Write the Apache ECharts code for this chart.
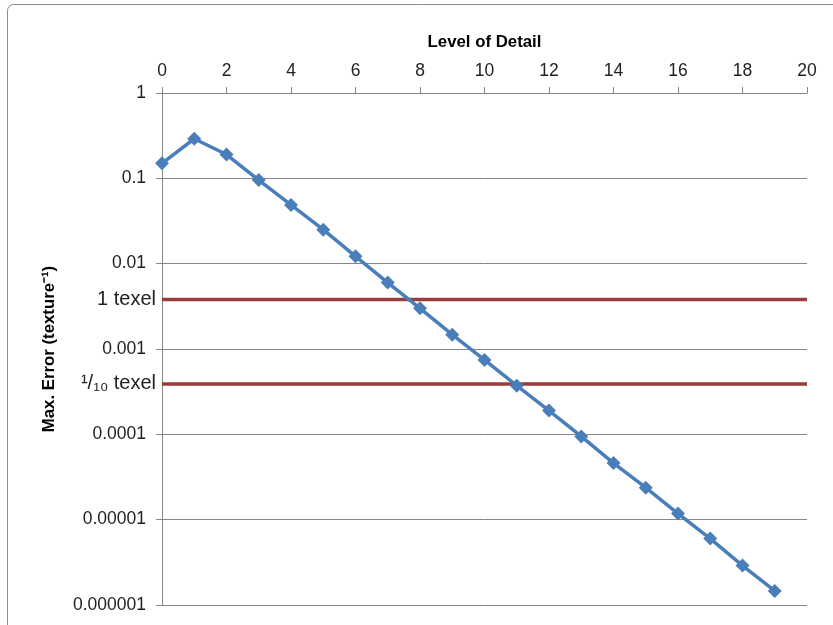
<!DOCTYPE html>
<html>
<head>
<meta charset="utf-8">
<script src="https://cdn.jsdelivr.net/npm/echarts@6/dist/echarts.min.js"></script>
<style>
  html, body { margin: 0; padding: 0; background: #ffffff; }
  #chart { width: 833px; height: 625px; }
</style>
</head>
<body>
<div id="chart"></div>
<script>
// Level of detail (x) against maximum error in texture units (log y)
const levels = [0, 1, 2, 3, 4, 5, 6, 7, 8, 9, 10, 11, 12, 13, 14, 15, 16, 17, 18, 19];
const maxError = [
  0.150, 0.291, 0.190, 0.0955, 0.0488, 0.0250, 0.0122, 0.0060, 0.00300, 0.00147,
  0.000745, 0.000372, 0.000190, 0.0000944, 0.0000460, 0.0000237, 0.0000118,
  0.0000060, 0.0000029, 0.00000146
];
// Reference thresholds: one texel and a tenth of a texel
const thresholdValues = [0.0038, 0.00039];
const thresholdLabels = ['1 texel', '\u00B9/\u2081\u2080 texel'];
// Level range spanned by the threshold lines
const thresholdSpan = [0, 20];
// Tick labels of the logarithmic error axis, from 1e-6 up to 1
const yTickLabels = ['0.000001', '0.00001', '0.0001', '0.001', '0.01', '0.1', '1'];

const FONT = '"Liberation Sans", Arial, sans-serif';
const chart = echarts.init(document.getElementById('chart'), null, { renderer: 'canvas' });

// Threshold rows: [from level, to level, error value, label index]
const thresholdRows = thresholdValues.map((v, i) => [thresholdSpan[0], thresholdSpan[1], v, i]);

function renderThreshold(params, api) {
  const y = api.value(2);
  const p0 = api.coord([api.value(0), y]);
  const p1 = api.coord([api.value(1), y]);
  return {
    type: 'group',
    children: [
      {
        type: 'line',
        shape: { x1: p0[0], y1: p0[1], x2: p1[0], y2: p1[1] },
        style: { stroke: '#993C3A', lineWidth: 3.5 }
      },
      {
        type: 'text',
        x: p0[0] - 6,
        y: p0[1],
        style: {
          text: thresholdLabels[api.value(3)],
          fill: '#222',
          font: '20px ' + FONT,
          align: 'right',
          verticalAlign: 'middle'
        }
      }
    ]
  };
}

chart.setOption({
  animation: false,
  backgroundColor: '#ffffff',
  graphic: [{
    type: 'rect',
    shape: { x: 7.5, y: 4.5, width: 900, height: 700, r: 6 },
    style: { fill: 'none', stroke: '#8c8c8c', lineWidth: 1 },
    silent: true
  }],
  grid: { left: 162, right: 26, top: 93, bottom: 20 },
  xAxis: {
    type: 'value',
    position: 'top',
    min: 0, max: 20, interval: 2,
    name: 'Level of Detail',
    nameLocation: 'middle',
    nameGap: 42,
    nameTextStyle: { fontFamily: FONT, fontWeight: 'bold', fontSize: 16.8, color: '#000' },
    axisLine: { onZero: false, lineStyle: { color: '#868686', width: 1 } },
    axisTick: { show: true, length: 6, inside: false, lineStyle: { color: '#868686' } },
    axisLabel: { fontFamily: FONT, fontSize: 17.5, color: '#222', margin: 13 },
    splitLine: { show: false }
  },
  yAxis: {
    type: 'log',
    logBase: 10,
    min: 0.000001, max: 1,
    name: 'Max. Error (texture\u207B\u00B9)',
    nameLocation: 'middle',
    nameGap: 104,
    nameTextStyle: { fontFamily: FONT, fontWeight: 'bold', fontSize: 16.8, color: '#000' },
    axisLine: { show: true, lineStyle: { color: '#868686', width: 1 } },
    axisTick: { show: true, length: 6, lineStyle: { color: '#868686' } },
    axisLabel: {
      fontFamily: FONT, fontSize: 17.5, color: '#222', margin: 16,
      formatter: function (v) {
        const e = Math.round(Math.log10(v));
        return yTickLabels[e + 6] !== undefined ? yTickLabels[e + 6] : '';
      }
    },
    splitLine: { show: true, lineStyle: { color: '#868686', width: 1 } },
    minorTick: { show: false },
    minorSplitLine: { show: false }
  },
  series: [
    {
      type: 'custom',
      name: 'Thresholds',
      data: thresholdRows,
      encode: { x: [0, 1], y: 2 },
      renderItem: renderThreshold,
      silent: true,
      clip: false,
      z: 3
    },
    {
      type: 'line',
      name: 'Max. Error',
      data: levels.map((x, i) => [x, maxError[i]]),
      symbol: 'diamond',
      symbolSize: 14,
      lineStyle: { color: '#4A7EBB', width: 3.5 },
      itemStyle: { color: '#4A7EBB' },
      z: 5
    }
  ]
});
</script>
</body>
</html>
